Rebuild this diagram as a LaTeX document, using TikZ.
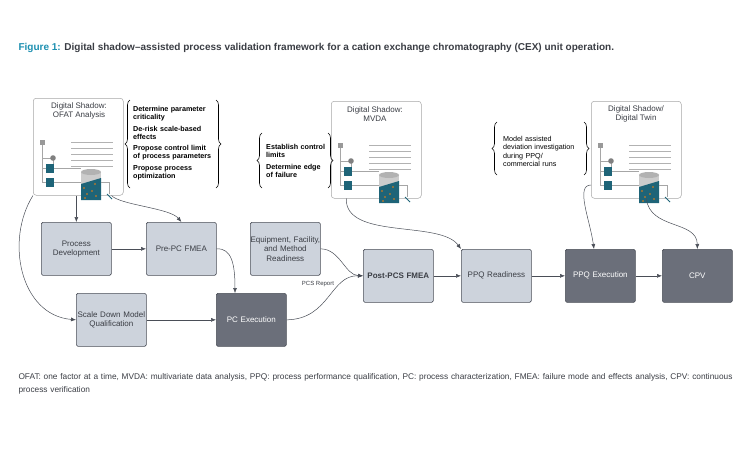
\documentclass[tikz,border=0pt]{standalone}
\usepackage{fontspec}
\setmainfont{Liberation Sans}
\usetikzlibrary{arrows.meta,decorations.pathreplacing}
\definecolor{teal1}{HTML}{1C8FB0}
\definecolor{tealD}{HTML}{1E6478}
\definecolor{lightb}{HTML}{CDD3DC}
\definecolor{darkb}{HTML}{6B6F7A}
\definecolor{bord}{HTML}{4A4E57}
\definecolor{txt}{HTML}{3A3D44}
\tikzset{
 box/.style={draw=bord,line width=0.7pt,rounded corners=1.5pt,minimum width=70pt,minimum height=53pt,align=center,font=\fontsize{8}{9.5}\selectfont,text=txt,inner sep=0pt,text width=70pt},
 lb/.style={box,fill=lightb},
 db/.style={box,fill=darkb,text=white},
 ds/.style={draw=gray!70,rounded corners=3pt,fill=white,minimum width=90pt,minimum height=97pt,line width=0.5pt},
 arr/.style={-{Latex[length=5pt,width=4pt]},draw=bord,line width=0.5pt},
 brc/.style={decorate,decoration={brace,amplitude=5pt},line width=0.6pt},
 bt/.style={font=\bfseries\fontsize{7.2}{8.3}\selectfont,align=left,text=black,inner sep=0pt},
 dst/.style={font=\fontsize{8}{9.5}\selectfont,align=center,text=txt},
 pics/shadow/.style={code={
   \fill[gray!80] (7,20) rectangle (12,25);
   \draw[gray!70,line width=0.3pt] (9.5,25) -- (9.5,62) -- (14,62) (9.5,38) -- (20,38) (9.5,48)--(14,48) (20,38)--(20,48) -- (48,48) (20,62)--(48,62);
   \fill[gray] (20,38) circle (2.8);
   \fill[tealD] (13,44) rectangle (21,53);
   \fill[tealD] (13,58) rectangle (21,67);
   \foreach \yy in {22,28,34,40,46}{\draw[gray!60,line width=0.3pt] (38,\yy)--(80,\yy);}
   \fill[gray!40] (48,52) rectangle (68,80);
   \fill[tealD] (48,64) -- (68,58) -- (68,80) -- (48,80) -- cycle;
   \fill[gray!60] (58,52) ellipse (10 and 3);
   \foreach \p in {(51,68),(54,74),(59,71),(63,76),(62,64),(52,78)}{\fill[orange!80!brown] \p circle (0.9);}
   \draw[gray!70,line width=0.3pt] (68,62) -- (76,62) -- (76,74);
   \draw[tealD,line width=0.9pt] (74,74) -- (79,79);
 }}
}
\begin{document}
\begin{tikzpicture}[x=1pt,y=-1pt]
\useasboundingbox (0,0) rectangle (750,450);
\node[anchor=west,font=\bfseries\fontsize{10}{12}\selectfont] at (15,48) {\textcolor{teal1}{Figure 1:} \textcolor{txt}{Digital shadow–assisted process validation framework for a cation exchange chromatography (CEX) unit operation.}};

% digital shadow boxes
\node[ds,anchor=north west] (ds1) at (33,98) {};
\pic at (33,98+22) {shadow};
\node[dst] at (79,111) {Digital Shadow:\\OFAT Analysis};
\node[ds,anchor=north west] (ds2) at (331,101) {};
\pic at (331,101+22) {shadow};
\node[dst] at (375,114) {Digital Shadow:\\MVDA};
\node[ds,anchor=north west] (ds3) at (591,101) {};
\pic at (591,101+22) {shadow};
\node[dst] at (636,114) {Digital Shadow/\\Digital Twin};

% brace texts
\node[bt,anchor=north west,text width=80pt] (b1) at (133,106) {\raggedright Determine parameter criticality\\[3pt]De-risk scale-based effects\\[3pt]Propose control limit of process parameters\\[3pt]Propose process optimization\par};
\draw[brc] (130,188) -- (130,100);
\draw[brc] (216,100) -- (216,188);
\node[bt,anchor=north west,text width=60pt] (b2) at (266,144) {\raggedright Establish control limits\\[3pt]Determine edge of failure\par};
\draw[brc] (262,188) -- (262,133);
\draw[brc] (328,133) -- (328,188);
\node[bt,anchor=north west,text width=74pt] (b3) at (503,136) {\raggedright\mdseries Model assisted deviation investigation during PPQ/ commercial runs\par};
\draw[brc] (497,175) -- (497,122);
\draw[brc] (584,122) -- (584,175);

% process boxes
\node[lb,anchor=north west] (pd) at (41,222) {Process\\Development};
\node[lb,anchor=north west] (pre) at (146,222) {Pre-PC FMEA};
\node[lb,anchor=north west] (eq) at (250,222) {Equipment, Facility,\\and Method\\Readiness};
\node[lb,anchor=north west] (sd) at (76,293) {Scale Down Model\\Qualification};
\node[db,anchor=north west] (pc) at (216,293) {PC Execution};
\node[lb,anchor=north west,font=\bfseries\fontsize{8}{9.5}\selectfont] (post) at (363,249) {Post-PCS FMEA};
\node[lb,anchor=north west] (ppqr) at (461,249) {PPQ Readiness};
\node[db,anchor=north west] (ppqe) at (565,249) {PPQ Execution};
\node[db,anchor=north west] (cpv) at (662,249) {CPV};

% connectors
\draw[arr] (ds1.south -| pd.north) -- (pd.north);
\draw[arr] (ds1.south east) ++(-12,0) coordinate (c1) (c1) .. controls (120,205) and (170,208) .. (pre.north);
\draw[arr] (ds1.south west) .. controls (5,240) and (20,315) .. (sd.west);
\draw[arr] (pd) -- (pre);
\draw[arr] (pre.east) .. controls (232,248) and (235,265) .. (pc.north -| 235,0);
\draw[arr] (sd) -- (pc);
\draw[arr] (pc.east) .. controls (330,319) and (330,275) .. node[pos=0.55,above left,font=\fontsize{6}{7}\selectfont,text=txt,xshift=6pt,yshift=4pt]{PCS Report} (post.west);
\draw[arr] (eq.east) .. controls (340,249) and (345,275) .. (post.west);
\draw[arr] (ds2.south) ++(-30,0) coordinate (c2) (c2) .. controls (345,240) and (440,220) .. (ppqr.north west);
\draw[arr] (post) -- (ppqr);
\draw[arr] (ppqr) -- (ppqe);
\draw[arr] (ppqe) -- (cpv);
\draw[arr] (ds3.west |- 0,185) .. controls (575,185) and (590,220) .. (594,249);
\draw[arr] (ds3.south) ++(10,0) coordinate (c3) (c3) .. controls (650,230) and (697,220) .. (cpv.north);

\node[anchor=north west,text width=715pt,align=left,font=\fontsize{8.3}{12.5}\selectfont,text=txt] at (15,370) {OFAT: one factor at a time, MVDA: multivariate data analysis, PPQ: process performance qualification, PC: process characterization, FMEA: failure mode and effects analysis, CPV: continuous process verification};
\end{tikzpicture}
\end{document}
